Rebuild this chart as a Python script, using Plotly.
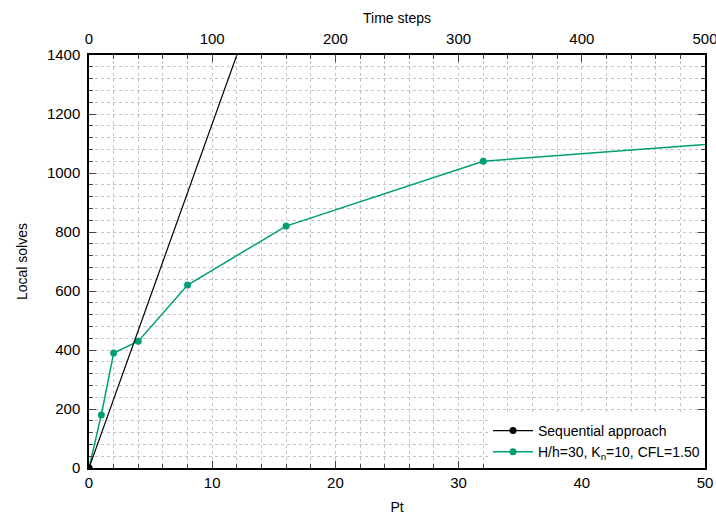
import plotly.graph_objects as go

# Data
pt = [0, 1, 2, 4, 8, 16, 32, 64]
local_solves = [0, 180, 390, 430, 620, 820, 1040, 1140]
seq_time_steps = [0, 500]
seq_local_solves = [0, 5833]

FAM = "Liberation Sans, Arial, sans-serif"
font = dict(family=FAM, size=14, color="black")
tick_font = dict(family=FAM, size=15, color="black")
title_font = dict(family=FAM, size=14, color="black")
grid = dict(showgrid=True, gridcolor="#c4c4c4", griddash="dot", gridwidth=1)
minor_grid = dict(showgrid=True, gridcolor="#c4c4c4", griddash="dot", gridwidth=1)

fig = go.Figure()
fig.add_trace(go.Scatter(
    x=seq_time_steps, y=seq_local_solves, xaxis="x2", yaxis="y",
    mode="lines+markers", name="Sequential approach",
    line=dict(color="black", width=1.2),
    marker=dict(color="black", size=7),
))
fig.add_trace(go.Scatter(
    x=pt, y=local_solves, mode="lines+markers",
    name="H/h=30, K<sub>n</sub>=10, CFL=1.50",
    line=dict(color="#009E73", width=1.5),
    marker=dict(color="#009E73", size=7),
))

fig.update_layout(
    width=716, height=515,
    margin=dict(l=89, r=11, t=55, b=47, autoexpand=False),
    paper_bgcolor="white", plot_bgcolor="white",
    font=font,
    showlegend=True,
    legend=dict(x=1.0, y=0.0, xanchor="right", yanchor="bottom",
                bgcolor="white", font=dict(family=FAM, size=14), tracegroupgap=0,
                traceorder="normal", itemwidth=40),
    xaxis=dict(range=[0, 50], dtick=10, ticks="inside", ticklen=7,
               showline=True, linecolor="black", linewidth=1.5,
               automargin=False, ticklabeloverflow="allow", tickfont=tick_font,
               title=dict(text="Pt", standoff=20, font=title_font), zeroline=False,
               minor=dict(dtick=2, ticks="inside", ticklen=4, **minor_grid),
               **grid),
    xaxis2=dict(range=[0, 500], dtick=100, ticks="inside", ticklen=7,
                overlaying="x", side="top", anchor="y",
                showline=True, linecolor="black", linewidth=1.5,
                automargin=False, ticklabeloverflow="allow", tickfont=tick_font,
                ticklabelstandoff=3,
                title=dict(text="Time steps", standoff=3, font=title_font), zeroline=False,
                showgrid=False,
                minor=dict(dtick=20, ticks="inside", ticklen=4)),
    yaxis=dict(range=[0, 1400], dtick=200, ticks="inside", ticklen=7,
               showline=True, linecolor="black", linewidth=1.5, mirror="ticks",
               automargin=False, tickfont=tick_font, ticklabelstandoff=4,
               title=dict(text="Local solves", standoff=16, font=title_font), zeroline=False,
               minor=dict(dtick=40, ticks="inside", ticklen=4, **minor_grid),
               **grid),
)

fig.write_html("out.html")
